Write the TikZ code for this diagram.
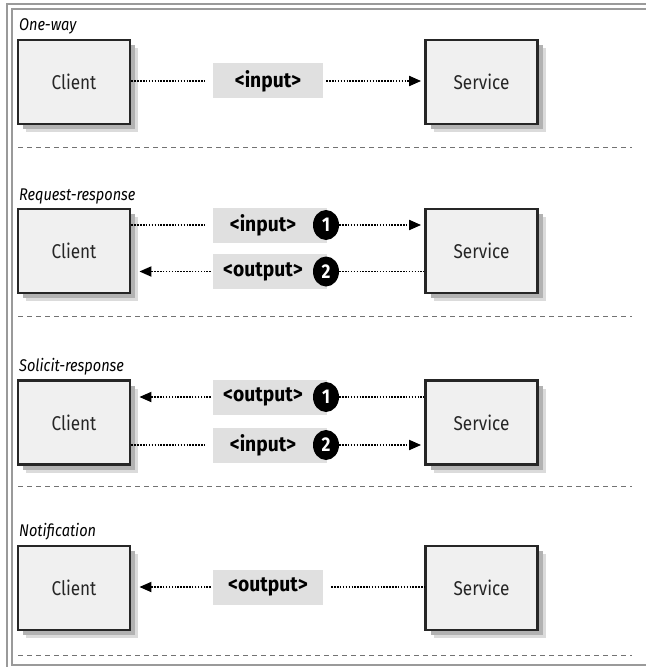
\documentclass[tikz,border=0pt]{standalone}
\usepackage{fontspec}
\setmainfont{Fira Sans}[FakeStretch=0.86]
\newfontfamily\labfont{Fira Sans}[FakeStretch=0.92]
\usetikzlibrary{arrows.meta,shapes.geometric}
\definecolor{boxfill}{HTML}{F0F0F0}
\definecolor{labfill}{HTML}{E0E0E0}
\definecolor{frame}{HTML}{9A9A9A}
\tikzset{
  ent/.style={draw=black!85, line width=2.8bp, fill=boxfill, minimum width=112bp, minimum height=84bp,
    inner sep=0pt, font=\fontsize{20}{23}\selectfont, text=black!85,
    preaction={fill=black!14, transform canvas={shift={(8bp,-8bp)}}},
    preaction={fill=black!30, transform canvas={shift={(5bp,-5bp)}}}},
  msg/.style={fill=labfill, minimum width=110bp, minimum height=35bp, inner sep=0pt,
    font=\labfont\bfseries\fontsize{21}{24}\selectfont},
  num/.style={ellipse, fill=black, text=white, minimum width=26bp, minimum height=30bp, inner sep=0pt,
    font=\bfseries\fontsize{20}{23}\selectfont},
  sect/.style={anchor=base west, inner sep=0pt, font=\itshape\fontsize{17}{20}\selectfont},
  dots/.style={line width=1.8bp, dash pattern=on 1.5bp off 1.4bp, black},
  tip/.style={-{Triangle[length=12bp,width=10bp]}},
  sep/.style={draw=black!55, line width=1bp, dash pattern=on 5bp off 4bp}
}
\begin{document}
\begin{tikzpicture}[x=1bp,y=-1bp]
\useasboundingbox (0,0) rectangle (646,667);
% frame
\draw[frame, line width=2bp] (7,667) -- (7,4) -- (646,4);
\draw[frame, line width=1.2bp] (646,665) -- (12,665) -- (12,9) -- (646,9);

% ---------- One-way
\node[sect] (l1) at (19,31) {One-way};
\node[ent] (c1) at (74,82) {Client};
\node[ent] (s1) at (481.5,82) {Service};
\node[msg] (m1) at (268,81) {<input>};
\draw[dots, shorten >=8bp] (c1.east |- m1.west) -- (m1.west);
\draw[dots, tip, shorten <=3bp, shorten >=3bp] (m1.east) -- (s1.west |- m1.east);
\coordinate (d1a) at (18,147); \coordinate (d1b) at (632,147);
\draw[sep] (d1a) -- (d1b);

% ---------- Request-response
\node[sect] (l2) at (19,200) {Request-response};
\node[ent] (c2) at (74,251) {Client};
\node[ent] (s2) at (481.5,251) {Service};
\node[msg, minimum width=114bp] (m2a) at (270,225) {\hspace*{-14bp}<input>};
\node[msg, minimum width=114bp] (m2b) at (270,271.5) {\hspace*{-14bp}<output>};
\node[num] (n2a) at (326,225) {1};
\node[num] (n2b) at (326,271.5) {2};
\draw[dots, shorten >=8bp] (c2.east |- m2a.west) -- (m2a.west);
\draw[dots, tip, shorten >=3bp] (n2a.east) -- (s2.west |- n2a.east);
\draw[dots, tip, shorten >=8bp, shorten <=2bp] (m2b.west) -- (c2.east |- m2b.west);
\draw[dots] (n2b.east) -- (s2.west |- n2b.east);
\coordinate (d2a) at (18,316); \coordinate (d2b) at (632,316);
\draw[sep] (d2a) -- (d2b);

% ---------- Solicit-response
\node[sect] (l3) at (19,371) {Solicit-response};
\node[ent] (c3) at (74,422.5) {Client};
\node[ent] (s3) at (481.5,422.5) {Service};
\node[msg, minimum width=114bp] (m3a) at (270,397) {\hspace*{-14bp}<output>};
\node[msg, minimum width=114bp] (m3b) at (270,445) {\hspace*{-14bp}<input>};
\node[num] (n3a) at (326,397) {1};
\node[num] (n3b) at (326,445) {2};
\draw[dots, tip, shorten >=8bp, shorten <=2bp] (m3a.west) -- (c3.east |- m3a.west);
\draw[dots] (n3a.east) -- (s3.west |- n3a.east);
\draw[dots, shorten >=8bp] (c3.east |- m3b.west) -- (m3b.west);
\draw[dots, tip, shorten >=3bp] (n3b.east) -- (s3.west |- n3b.east);
\coordinate (d3a) at (18,486); \coordinate (d3b) at (632,486);
\draw[sep] (d3a) -- (d3b);

% ---------- Notification
\node[sect] (l4) at (19,536) {Notification};
\node[ent] (c4) at (74,588) {Client};
\node[ent] (s4) at (481.5,588) {Service};
\node[msg] (m4) at (268,587) {<output>};
\draw[dots, tip, shorten >=8bp, shorten <=2bp] (m4.west) -- (c4.east |- m4.west);
\draw[dots, shorten <=8bp] (m4.east) -- (s4.west |- m4.east);
\coordinate (d4a) at (18,655); \coordinate (d4b) at (632,655);
\draw[sep] (d4a) -- (d4b);
\end{tikzpicture}
\end{document}
